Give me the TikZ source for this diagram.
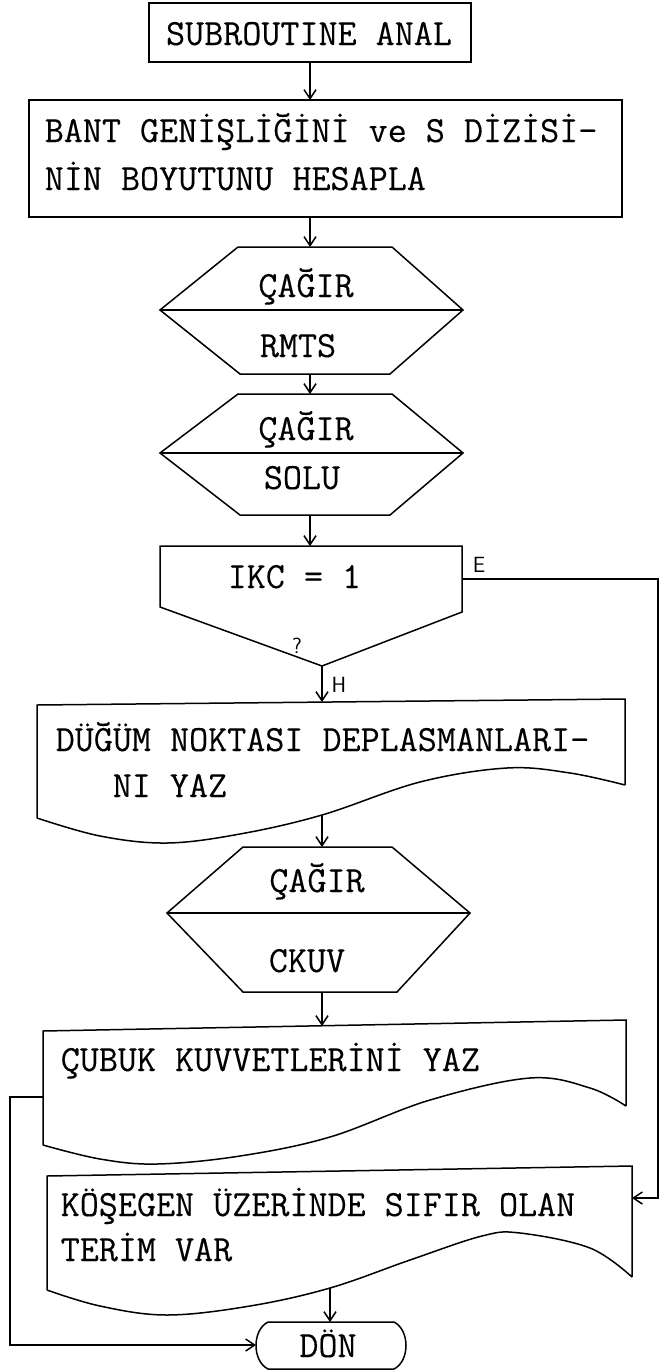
\documentclass[tikz,border=0pt]{standalone}
\usepackage{fontspec}
\newfontfamily\typewriter{Latin Modern Mono}[FakeBold=0.25]
\usetikzlibrary{arrows.meta}

\begin{document}
\begin{tikzpicture}[x=1pt, y=-1pt, line width=1.5pt, line join=miter,
  outline/.style={draw},
  conn/.style={draw, -{Straight Barb[length=9pt, width=12pt]}},
  txt/.style={font=\fontsize{37}{45}\selectfont\typewriter, inner sep=0pt},
  lbl/.style={font=\fontsize{22}{24}\selectfont\sffamily, inner sep=0pt}]

\useasboundingbox (0,0) rectangle (660,1371);

% --- SUBROUTINE ANAL
\path[outline] (149,3) rectangle (471,62);
\node[txt, anchor=base] (tstart) at (309,45) {SUBROUTINE ANAL};
\coordinate (startS) at (310,62);

% --- band width box
\path[outline] (29,100) rectangle (622,217);
\node[txt, anchor=base west] (tbant1) at (44,142) {BANT GENİŞLİĞİNİ ve S DİZİSİ-};
\node[txt, anchor=base west] (tbant2) at (44,190) {NİN BOYUTUNU HESAPLA};
\coordinate (bantN) at (310,100);
\coordinate (bantS) at (310,217);

% --- call RMTS
\path[outline] (238,247) -- (392,247) -- (463,310) -- (390,374) -- (240,374) -- (160,310) -- cycle;
\draw (160,310) -- (463,310);
\node[txt, anchor=base] (trm1) at (306,297) {ÇAĞIR};
\node[txt, anchor=base] (trm2) at (298,357) {RMTS};
\coordinate (rmtsN) at (310,247);
\coordinate (rmtsS) at (310,374);

% --- call SOLU
\path[outline] (238,394) -- (392,394) -- (463,453) -- (390,515) -- (240,515) -- (160,453) -- cycle;
\draw (160,453) -- (463,453);
\node[txt, anchor=base] (tso1) at (306,440) {ÇAĞIR};
\node[txt, anchor=base] (tso2) at (302,489) {SOLU};
\coordinate (soluN) at (310,394);
\coordinate (soluS) at (310,515);

% --- decision IKC = 1
\path[outline] (160,546) -- (462,546) -- (462,612) -- (322,666) -- (160,607) -- cycle;
\node[txt, anchor=base west] (tikc) at (227,588) {IKC = 1};
\node[lbl] (lq) at (297,646) {?};
\node[lbl] (le) at (479,565) {E};
\node[lbl] (lh) at (339,685) {H};
\coordinate (ikcN) at (310,546);
\coordinate (ikcE) at (462,579);
\coordinate (ikcS) at (322,666);
\coordinate (ecorner) at (658,579);

% --- print nodal displacements
\path[outline] (625,785) -- (625,699) -- (37,705) -- (37,818)
  plot[smooth, tension=0.6] coordinates {(37,818) (100,836) (167,843) (240,834) (322,815) (420,782) (507,768) (570,773) (625,785)};
\node[txt, anchor=base west] (tdug1) at (55,751) {DÜĞÜM NOKTASI DEPLASMANLARI-};
\node[txt, anchor=base west] (tdug2) at (112,797) {NI YAZ};
\coordinate (dugN) at (322,702);
\coordinate (dugS) at (322,815);

% --- call CKUV
\path[outline] (243,847) -- (392,847) -- (470,913) -- (397,992) -- (243,992) -- (167,913) -- cycle;
\draw (167,913) -- (470,913);
\node[txt, anchor=base] (tck1) at (317,892) {ÇAĞIR};
\node[txt, anchor=base] (tck2) at (307,972) {CKUV};
\coordinate (ckuvN) at (322,847);
\coordinate (ckuvS) at (322,992);

% --- print member forces
\path[outline] (626,1106) -- (626,1020) -- (43,1031) -- (43,1145)
  plot[smooth, tension=0.6] coordinates {(43,1145) (100,1159) (157,1164) (240,1156) (330,1137) (430,1100) (530,1078) (590,1088) (626,1106)};
\node[txt, anchor=base west] (tcub) at (60,1071) {ÇUBUK KUVVETLERİNİ YAZ};
\coordinate (cubN) at (322,1026);
\coordinate (cubW) at (43,1097);
\coordinate (retA) at (10,1097);
\coordinate (retB) at (10,1345);

% --- zero on diagonal message
\path[outline] (632,1277) -- (632,1166) -- (47,1176) -- (47,1290)
  plot[smooth, tension=0.6] coordinates {(47,1290) (100,1306) (167,1315) (250,1306) (330,1288) (410,1260) (482,1236) (520,1233) (590,1248) (632,1277)};
\node[txt, anchor=base west] (tkos1) at (60,1216) {KÖŞEGEN ÜZERİNDE SIFIR OLAN};
\node[txt, anchor=base west] (tkos2) at (60,1261) {TERİM VAR};
\coordinate (kosE) at (632,1198);
\coordinate (kosS) at (330,1288);
\coordinate (eend) at (658,1198);

% --- return
\path[outline] (268,1322) -- (394,1322) .. controls (410,1330) and (410,1361) .. (394,1369)
  -- (268,1369) .. controls (252,1361) and (252,1330) .. (268,1322) -- cycle;
\node[txt, anchor=base] (tdon) at (328,1357) {DÖN};
\coordinate (donN) at (330,1322);
\coordinate (donW) at (256,1345);

% --- connectors
\path[conn] (startS) -- (bantN);
\path[conn] (bantS) -- (rmtsN);
\path[conn] (rmtsS) -- (soluN);
\path[conn] (soluS) -- (ikcN);
\path[conn] (ikcS) -- (dugN);
\path[conn] (dugS) -- (ckuvN);
\path[conn] (ckuvS) -- (cubN);
\path[conn] (ikcE) -- (ecorner) -- (eend) -- (kosE);
\path[conn] (kosS) -- (donN);
\path[conn] (cubW) -- (retA) -- (retB) -- (donW);
\end{tikzpicture}
\end{document}
